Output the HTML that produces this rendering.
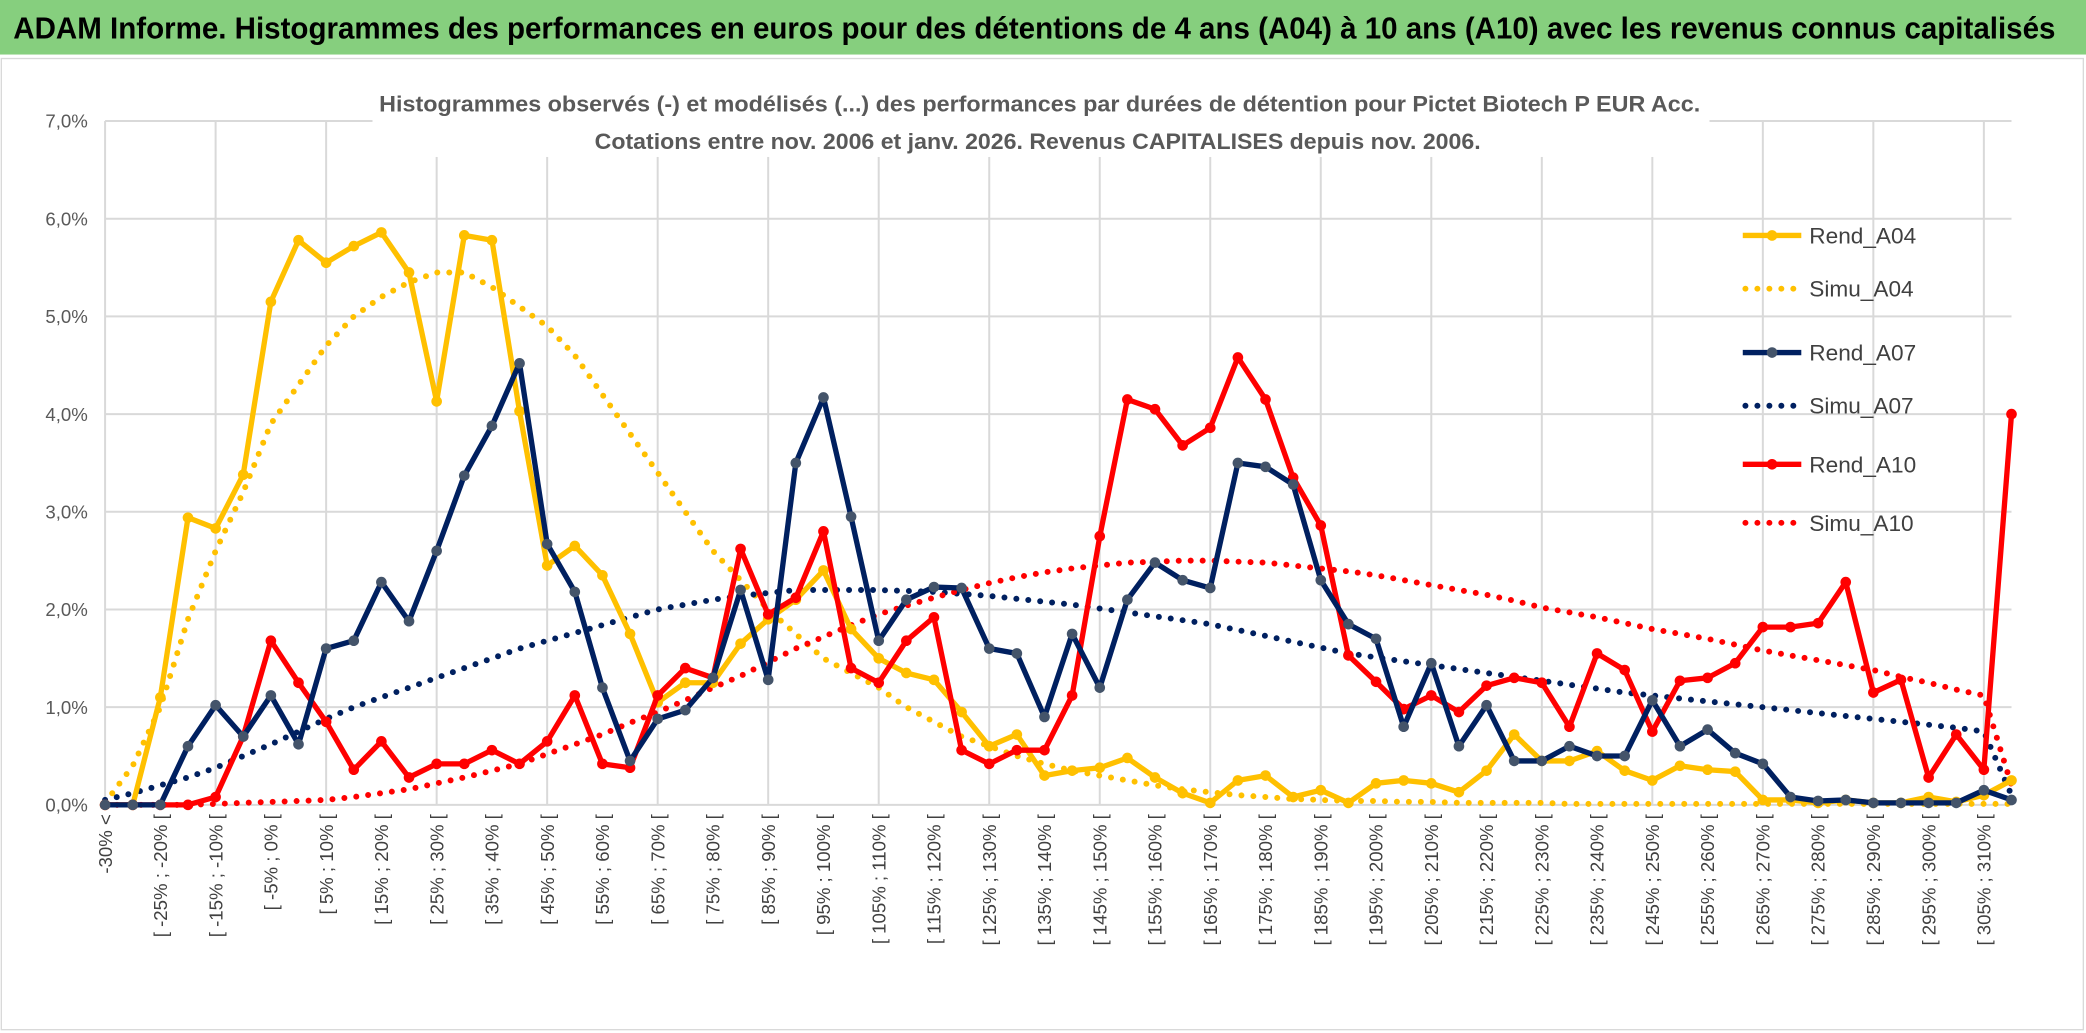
<!DOCTYPE html>
<html><head><meta charset="utf-8"><style>
html,body{margin:0;padding:0;background:#fff;}
svg{display:block;font-family:"Liberation Sans",sans-serif;}
</style></head><body>
<svg id="chart" width="2086" height="1033" viewBox="0 0 1568 776.5" preserveAspectRatio="none" xmlns="http://www.w3.org/2000/svg">
<rect x="0" y="0" width="1568" height="776.5" fill="#fff"/>
<rect x="0" y="0" width="1568" height="41" fill="#86cf7e"/>
<text x="10" y="29" font-size="23" font-weight="bold" fill="#000" textLength="1535" lengthAdjust="spacingAndGlyphs">ADAM Informe. Histogrammes des performances en euros pour des détentions de 4 ans (A04) à 10 ans (A10) avec les revenus connus capitalisés</text>
<rect x="1" y="44" width="1565" height="730" fill="none" stroke="#d9d9d9" stroke-width="1"/>
<g id="grid"></g><g id="axes"></g><g id="series"></g>
<rect x="280" y="64" width="1005" height="54" fill="#fff"/>
<text x="285" y="84" font-size="17" font-weight="bold" fill="#595959" textLength="993" lengthAdjust="spacingAndGlyphs">Histogrammes observés (-) et modélisés (...) des performances par durées de détention pour Pictet Biotech P EUR Acc.</text>
<text x="447" y="112" font-size="17" font-weight="bold" fill="#595959" textLength="666" lengthAdjust="spacingAndGlyphs">Cotations entre nov. 2006 et janv. 2026. Revenus CAPITALISES depuis nov. 2006.</text>
<g id="legend"></g>
</svg>
<script>
const yTicks=[0,1,2,3,4,5,6,7];
const yTickLabels=["0,0%","1,0%","2,0%","3,0%","4,0%","5,0%","6,0%","7,0%"];
const categories=(function(){const c=["-30% <"];for(let a=-30;a<=310;a+=5)c.push("[ "+a+"% ; "+(a+5)+"% [");return c;})();
const rendA04=[0,0,1.1,2.94,2.83,3.38,5.15,5.78,5.55,5.72,5.86,5.45,4.13,5.83,5.78,4.03,2.45,2.65,2.35,1.75,1.05,1.25,1.25,1.65,1.9,2.1,2.4,1.8,1.5,1.35,1.28,0.95,0.6,0.72,0.3,0.35,0.38,0.48,0.28,0.12,0.02,0.25,0.3,0.08,0.15,0.02,0.22,0.25,0.22,0.13,0.35,0.72,0.45,0.45,0.55,0.35,0.25,0.4,0.36,0.34,0.05,0.05,0.02,0.05,0.02,0.02,0.08,0.03,0.1,0.25];
const simuA04=[0.02,0.4,1.0,1.9,2.6,3.2,3.9,4.3,4.7,5.0,5.2,5.35,5.45,5.45,5.3,5.1,4.9,4.6,4.2,3.8,3.4,3.0,2.6,2.3,2.0,1.75,1.5,1.35,1.2,1.0,0.85,0.7,0.6,0.5,0.42,0.35,0.3,0.25,0.2,0.16,0.13,0.1,0.08,0.06,0.05,0.04,0.04,0.03,0.03,0.02,0.02,0.02,0.02,0.01,0.01,0.01,0.01,0.01,0.01,0.01,0.01,0.01,0.01,0.01,0.01,0.01,0.01,0.01,0.01,0.01];
const rendA07=[0,0,0,0.6,1.02,0.7,1.12,0.62,1.6,1.68,2.28,1.88,2.6,3.37,3.88,4.52,2.67,2.18,1.2,0.45,0.88,0.97,1.3,2.2,1.28,3.5,4.17,2.95,1.68,2.1,2.23,2.22,1.6,1.55,0.9,1.75,1.2,2.1,2.48,2.3,2.22,3.5,3.46,3.28,2.3,1.85,1.7,0.8,1.45,0.6,1.02,0.45,0.45,0.6,0.5,0.5,1.07,0.6,0.77,0.53,0.42,0.08,0.04,0.05,0.02,0.02,0.02,0.02,0.15,0.05];
const simuA07=[0.05,0.12,0.2,0.28,0.38,0.5,0.62,0.75,0.88,1.0,1.1,1.2,1.3,1.4,1.5,1.6,1.68,1.76,1.84,1.92,2.0,2.05,2.1,2.14,2.17,2.2,2.2,2.2,2.2,2.19,2.18,2.16,2.14,2.11,2.08,2.05,2.01,1.97,1.93,1.89,1.85,1.79,1.73,1.67,1.61,1.55,1.51,1.47,1.43,1.39,1.35,1.31,1.27,1.23,1.19,1.15,1.12,1.09,1.06,1.03,1.0,0.97,0.94,0.91,0.88,0.85,0.82,0.79,0.75,0.1];
const rendA10=[0,0,0,0,0.08,0.7,1.68,1.25,0.85,0.36,0.65,0.28,0.42,0.42,0.56,0.42,0.65,1.12,0.42,0.38,1.12,1.4,1.3,2.62,1.95,2.12,2.8,1.4,1.25,1.68,1.92,0.56,0.42,0.56,0.56,1.12,2.75,4.15,4.05,3.68,3.86,4.58,4.15,3.35,2.86,1.53,1.26,0.98,1.12,0.95,1.22,1.3,1.25,0.8,1.55,1.38,0.75,1.27,1.3,1.45,1.82,1.82,1.86,2.28,1.15,1.28,0.28,0.72,0.36,4.0];
const simuA10=[0,0,0,0,0.01,0.02,0.03,0.04,0.05,0.08,0.12,0.16,0.22,0.28,0.35,0.42,0.52,0.62,0.72,0.84,0.95,1.07,1.2,1.32,1.46,1.6,1.72,1.84,1.95,2.04,2.12,2.2,2.27,2.33,2.38,2.42,2.45,2.48,2.49,2.5,2.5,2.49,2.48,2.45,2.42,2.39,2.35,2.3,2.25,2.2,2.15,2.09,2.02,1.97,1.92,1.86,1.8,1.75,1.7,1.64,1.58,1.53,1.48,1.43,1.38,1.31,1.25,1.18,1.12,0.2];

const NS="http://www.w3.org/2000/svg";
const X0=79,X1=1512,Y0=605,Y7=91;
function xPos(i){return X0+i*(X1-X0)/(categories.length-1);}
function yPos(v){return Y0-(v/7)*(Y0-Y7);}
function mk(tag,attrs,parent){const e=document.createElementNS(NS,tag);for(const k in attrs)e.setAttribute(k,attrs[k]);parent.appendChild(e);return e;}
const grid=document.getElementById('grid'),axes=document.getElementById('axes'),ser=document.getElementById('series'),leg=document.getElementById('legend');
yTicks.forEach((t,k)=>{
  const l=mk('line',{x1:X0,x2:X1,y1:yPos(t),y2:yPos(t),stroke:'#d9d9d9','stroke-width':1.5},grid);
  
  
  const tx=mk('text',{x:66,y:yPos(t)+5,'font-size':14,fill:'#595959','text-anchor':'end'},axes);
  tx.textContent=yTickLabels[k];
  
  
});
categories.forEach((c,i)=>{
  if(i%4===0){
    const l=mk('line',{x1:xPos(i),x2:xPos(i),y1:Y7,y2:Y0,stroke:'#d9d9d9','stroke-width':1.5},grid);
    
    
  }
  if(i%2===0){
    const tx=mk('text',{x:0,y:0,'font-size':14,fill:'#404040','text-anchor':'end',transform:'translate('+(xPos(i)+5)+',612) rotate(-90)'},axes);
    tx.textContent=c;
    
    
  }
});
const series=[
 {d:simuA04,c:'#FFC000',dot:true,name:'Simu_A04'},
 {d:simuA07,c:'#002060',dot:true,name:'Simu_A07'},
 {d:simuA10,c:'#FF0000',dot:true,name:'Simu_A10'},
 {d:rendA04,c:'#FFC000',m:'#FFC000',name:'Rend_A04'},
 {d:rendA10,c:'#FF0000',m:'#FF0000',name:'Rend_A10'},
 {d:rendA07,c:'#002060',m:'#44546A',name:'Rend_A07'}
];
series.forEach(s=>{
  const g=mk('g',{},ser);
  
  
  const pts=s.d.map((v,i)=>xPos(i).toFixed(1)+','+yPos(v).toFixed(1)).join(' ');
  if(s.dot){
    mk('polyline',{points:pts,fill:'none',stroke:s.c,'stroke-width':4.5,'stroke-dasharray':'0 9','stroke-linecap':'round'},g);
  }else{
    mk('polyline',{points:pts,fill:'none',stroke:s.c,'stroke-width':4,'stroke-linejoin':'round'},g);
    s.d.forEach((v,i)=>{
      const p=mk('circle',{cx:xPos(i),cy:yPos(v),r:4,fill:s.m},g);
      
      
    });
  }
});
const legItems=[
 {name:'Rend_A04',c:'#FFC000',m:'#FFC000',y:177},
 {name:'Simu_A04',c:'#FFC000',dot:true,y:217},
 {name:'Rend_A07',c:'#002060',m:'#44546A',y:265},
 {name:'Simu_A07',c:'#002060',dot:true,y:305},
 {name:'Rend_A10',c:'#FF0000',m:'#FF0000',y:349},
 {name:'Simu_A10',c:'#FF0000',dot:true,y:393}
];
legItems.forEach(it=>{
  const g=mk('g',{},leg);
  
  
  if(it.dot){
    mk('line',{x1:1312,x2:1352,y1:it.y,y2:it.y,stroke:it.c,'stroke-width':4.5,'stroke-dasharray':'0 9','stroke-linecap':'round'},g);
  }else{
    mk('line',{x1:1310,x2:1354,y1:it.y,y2:it.y,stroke:it.c,'stroke-width':4},g);
    mk('circle',{cx:1332,cy:it.y,r:4,fill:it.m},g);
  }
  const t=mk('text',{x:1360,y:it.y+6,'font-size':17,fill:'#404040'},g);
  t.textContent=it.name;
});
</script>
</body></html>
